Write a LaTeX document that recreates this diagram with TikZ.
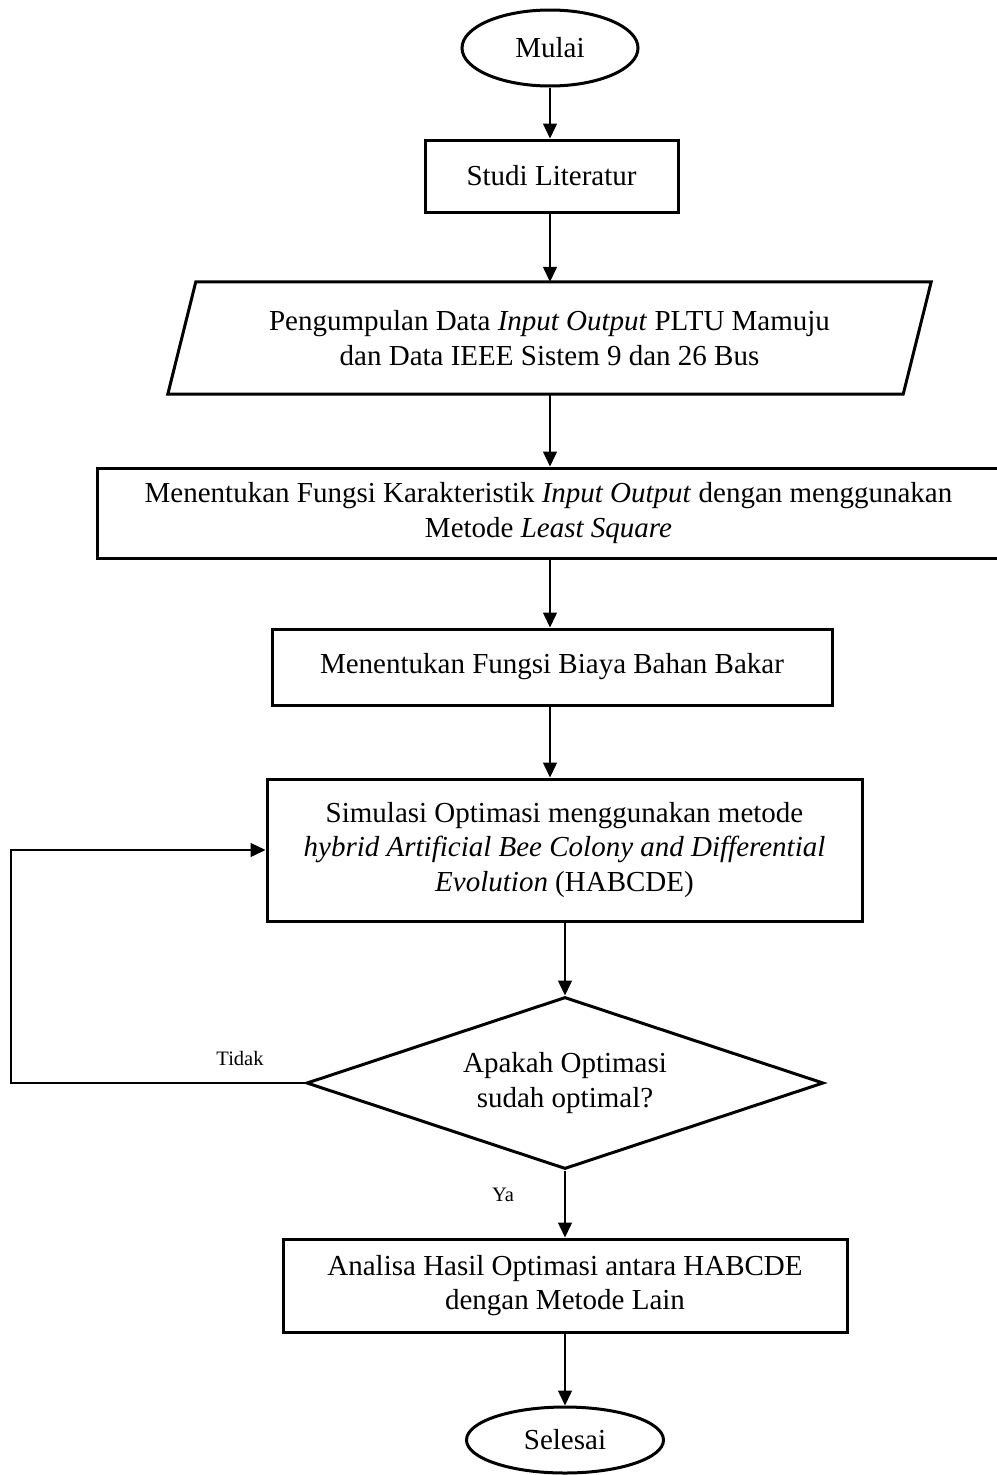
\documentclass[tikz,border=0pt]{standalone}
\usepackage{fontspec}
\setmainfont{Liberation Serif}
\usetikzlibrary{shapes.geometric,arrows.meta}
\newcommand{\mainfs}{\fontsize{29}{34.5}\selectfont}
\newcommand{\smallfs}{\fontsize{20.5}{24}\selectfont}
\begin{document}
\begin{tikzpicture}[x=1pt,y=-1pt,
  box/.style={draw, line width=3pt, rectangle, align=center, inner sep=0pt, font=\mainfs},
  term/.style={draw, line width=3pt, ellipse, inner sep=0pt, font=\mainfs},
  arr/.style={line width=1.4pt, -{Triangle[width=14pt,length=15pt]}},
  lbl/.style={font=\smallfs, inner sep=0pt}]
\useasboundingbox (0,0) rectangle (996,1475);
\fill[white] (0,0) rectangle (996,1475);

\node[term, minimum width=176pt, minimum height=76pt] (start) at (550,48) {Mulai};
\node[box, minimum width=253pt, minimum height=72pt] (s1) at (551.5,176) {Studi Literatur};
\node[font=\mainfs, align=center, minimum width=735pt, minimum height=112pt, inner sep=0pt] (p) at (549.5,338)
  {Pengumpulan Data \textit{Input Output} PLTU Mamuju\\dan Data IEEE Sistem 9 dan 26 Bus};
\draw[line width=3pt] ([xshift=14pt]p.north west) -- ([xshift=14pt]p.north east)
  -- ([xshift=-14pt]p.south east) -- ([xshift=-14pt]p.south west) -- cycle;
\node[box, minimum width=903pt, minimum height=90pt] (s3) at (548.5,513)
  {Menentukan Fungsi Karakteristik \textit{Input Output} dengan menggunakan\\Metode \textit{Least Square}};
\node[box, minimum width=560pt, minimum height=76pt] (s4) at (552,667) {Menentukan Fungsi Biaya Bahan Bakar};
\node[box, minimum width=595pt, minimum height=142pt] (s5) at (564.5,850)
  {Simulasi Optimasi menggunakan metode\\\textit{hybrid Artificial Bee Colony and Differential}\\\textit{Evolution} (HABCDE)};
\node[diamond, draw, line width=3pt, minimum width=517pt, minimum height=172pt, inner sep=0pt, aspect=3,
  align=center, font=\mainfs] (d) at (565,1083) {Apakah Optimasi\\sudah optimal?};
\node[box, minimum width=564pt, minimum height=93pt] (s6) at (565,1285.5)
  {Analisa Hasil Optimasi antara HABCDE\\dengan Metode Lain};
\node[term, minimum width=197pt, minimum height=66pt] (end) at (565,1440) {Selesai};

\node[lbl] (tidak) at (240,1058) {Tidak};
\node[lbl] (ya) at (503,1195) {Ya};

\coordinate (c1) at (550,0);
\coordinate (c2) at (565,0);
\coordinate (lx) at (11,0);
\draw[arr] (start.south -| c1) -- (s1.north -| c1);
\draw[arr] (s1.south -| c1) -- (p.north -| c1);
\draw[arr] (p.south -| c1) -- (s3.north -| c1);
\draw[arr] (s3.south -| c1) -- (s4.north -| c1);
\draw[arr] (s4.south -| c1) -- (s5.north -| c1);
\draw[arr] (s5.south -| c2) -- (d.north -| c2);
\draw[arr] (d.south -| c2) -- (s6.north -| c2);
\draw[arr] (s6.south -| c2) -- (end.north -| c2);
\draw[arr] (d.west) -- (d.west -| lx) |- (s5.west);
\end{tikzpicture}
\end{document}
